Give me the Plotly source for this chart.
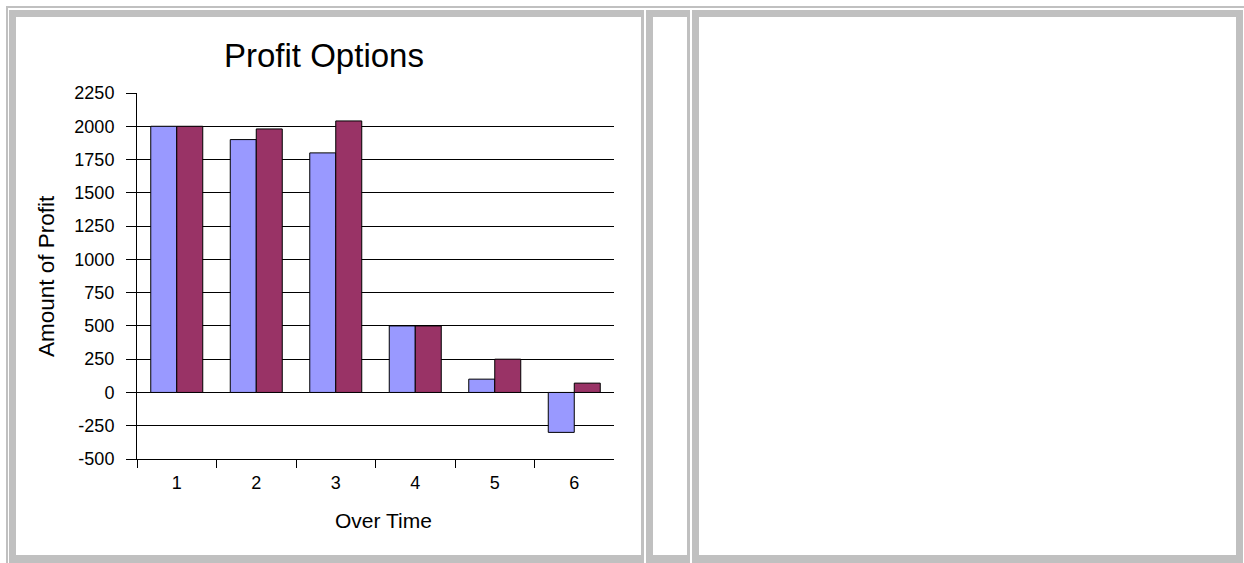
import plotly.graph_objects as go

# Chart data
periods = [1, 2, 3, 4, 5, 6]
option_a = [2000, 1900, 1800, 500, 100, -300]
option_b = [2000, 1980, 2040, 500, 250, 70]
y_ticks = list(range(-500, 2251, 250))

W, H = 1244, 563
# plot-area box in pixels
PL, PR, PT, PB = 137, 614, 93, 459
FONT = "Liberation Sans, Arial, sans-serif"
SILVER = "#C0C0C0"


def fx(px):
    return (px - PL) / (PR - PL)


def fy(py):
    return (PB - py) / (PB - PT)


def band(x0, y0, x1, y1):
    return dict(type="rect", xref="paper", yref="paper",
                x0=fx(x0), x1=fx(x1), y0=fy(y1), y1=fy(y0),
                fillcolor=SILVER, line=dict(width=0), layer="above")


fig = go.Figure()
fig.add_trace(go.Bar(x=periods, y=option_a, name="Option A",
                     marker=dict(color="#9999FF", line=dict(color="#000000", width=1))))
fig.add_trace(go.Bar(x=periods, y=option_b, name="Option B",
                     marker=dict(color="#993366", line=dict(color="#000000", width=1))))

shapes = [
    # outer table lines
    band(6, 6, W, 8),
    band(6, 6, 8, H),
    # left panel
    band(9, 10, 644, 17),
    band(9, 10, 16, H),
    band(641, 10, 644, H),
    band(9, 555, 644, H),
    # middle panel
    band(646, 10, 690, 17),
    band(646, 10, 653, H),
    band(687, 10, 690, H),
    band(646, 555, 690, H),
    # right panel
    band(692, 10, 1243, 17),
    band(692, 10, 699, H),
    band(1236, 10, 1243, H),
    band(692, 555, 1243, H),
]

annotations = [
    dict(text="Profit Options", xref="paper", yref="paper", x=fx(324), y=fy(55),
         xanchor="center", yanchor="middle", showarrow=False,
         font=dict(family=FONT, size=33, color="#000000")),
    dict(text="Over Time", xref="paper", yref="paper", x=fx(383), y=fy(520),
         xanchor="center", yanchor="middle", showarrow=False,
         font=dict(family=FONT, size=21, color="#000000")),
    dict(text="Amount of Profit", xref="paper", yref="paper", x=fx(46), y=fy(276),
         xanchor="center", yanchor="middle", showarrow=False, textangle=-90,
         font=dict(family=FONT, size=22.5, color="#000000")),
]

fig.update_layout(
    width=W, height=H,
    margin=dict(l=PL, r=W - PR, t=PT, b=H - PB, pad=0),
    paper_bgcolor="#FFFFFF", plot_bgcolor="#FFFFFF",
    barmode="group", bargap=0.346, bargroupgap=0,
    showlegend=False,
    font=dict(family=FONT, size=18, color="#000000"),
    shapes=shapes, annotations=annotations,
)
fig.update_xaxes(
    range=[0.5, 6.5], tickvals=periods, ticktext=[str(p) for p in periods],
    showgrid=False, showline=True, linecolor="#000000", linewidth=1,
    ticks="", ticklabelstandoff=7, tickfont=dict(family=FONT, size=18),
    minor=dict(tickvals=[p - 0.5 for p in periods], ticks="outside", ticklen=8,
               tickcolor="#000000", showgrid=False),
)
fig.update_yaxes(
    range=[-500, 2250], tickvals=y_ticks, ticktext=[str(v) for v in y_ticks],
    showline=True, linecolor="#000000", linewidth=1,
    showgrid=True, gridcolor="#000000", gridwidth=1,
    zeroline=True, zerolinecolor="#000000", zerolinewidth=1,
    ticks="outside", ticklen=10, tickcolor="#000000",
    ticklabelstandoff=8, tickfont=dict(family=FONT, size=18),
)

fig.write_html("out.html")
